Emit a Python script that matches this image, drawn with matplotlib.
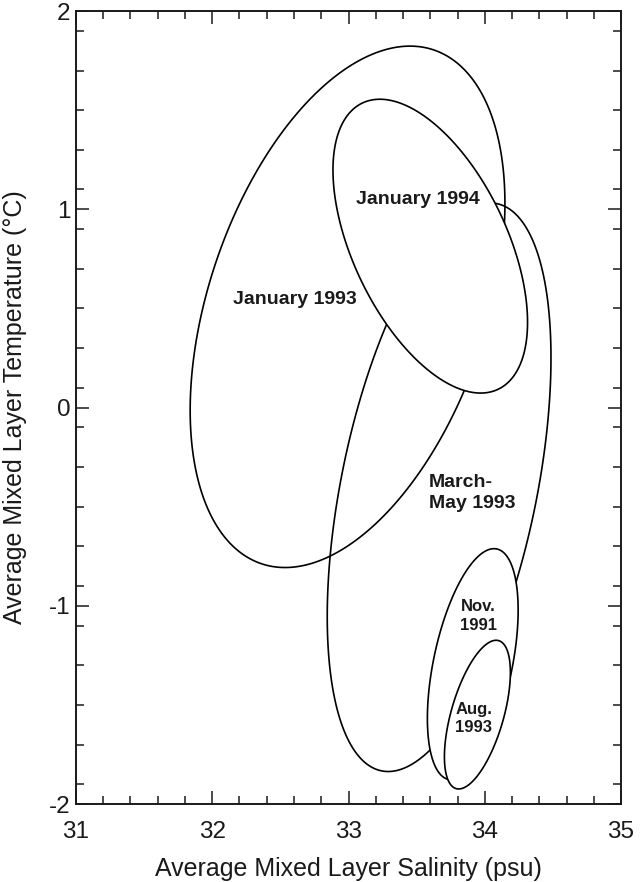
import numpy as np
import matplotlib
matplotlib.use("Agg")
import matplotlib.pyplot as plt
from matplotlib.ticker import MultipleLocator, FixedLocator

plt.rcParams['font.family'] = ['Liberation Sans', 'DejaVu Sans']
plt.rcParams['axes.unicode_minus'] = False

# Ellipse statistics (mean salinity, mean temperature, spreads, correlation)
periods = ["March-May 1993", "January 1993", "January 1994", "Nov. 1991", "Aug. 1993"]
mean_sal = [33.665, 32.993, 33.600, 33.912, 33.946]
mean_temp = [-0.402, 0.508, 0.814, -1.295, -1.549]
sd_sal = [0.821, 1.155, 0.714, 0.333, 0.242]
sd_temp = [1.434, 1.315, 0.741, 0.583, 0.375]
corr = [0.455, 0.397, -0.518, 0.468, 0.567]
filled = [False, False, True, True, True]

# Labels and their positions (data coordinates)
label_text = ["March-\nMay 1993", "January 1993", "January 1994", "Nov.\n1991", "Aug.\n1993"]
label_x = [33.589, 32.61, 33.51, 33.954, 33.918]
label_y = [-0.43, 0.546, 1.047, -1.052, -1.569]
label_ha = ["left", "center", "center", "center", "center"]
label_size = [14, 14, 14, 12, 12]

x_ticks = [31, 32, 33, 34, 35]
y_ticks = [-2, -1, 0, 1, 2]

fig = plt.figure(figsize=(6.44, 8.82), dpi=100)
ax = fig.add_axes([0.118, 0.0884, 0.8463, 0.8991])
ax.set_xlim(31, 35)
ax.set_ylim(-2, 2)

t = np.linspace(0, 2 * np.pi, 600)
for i in range(len(periods)):
    cx, cy, sx, sy, r = mean_sal[i], mean_temp[i], sd_sal[i], sd_temp[i], corr[i]
    xs = cx + sx * np.cos(t)
    ys = cy + sy * (r * np.cos(t) + np.sqrt(1 - r * r) * np.sin(t))
    ax.fill(xs, ys, facecolor="white" if filled[i] else "none",
            edgecolor="black", lw=1.2, zorder=2 + i)

for i in range(len(label_text)):
    ax.text(label_x[i], label_y[i], label_text[i], ha=label_ha[i], va="center",
            fontsize=label_size[i], fontweight="bold", linespacing=1.28,
            color="#1a1a1a", zorder=10)

ax.set_xticks(x_ticks)
ax.set_yticks(y_ticks)
ax.set_xticklabels([str(v) for v in x_ticks])
ax.set_yticklabels([str(v) for v in y_ticks])
ax.xaxis.set_minor_locator(MultipleLocator(0.2))
ax.yaxis.set_minor_locator(FixedLocator(np.round(np.arange(-1.9, 2.0, 0.2), 1)))

ax.tick_params(which="both", direction="in", top=True, right=True, width=1.1, colors="#1a1a1a")
ax.tick_params(which="major", length=9.7)
ax.tick_params(which="minor", length=5.8)
ax.tick_params(axis="x", which="major", labelsize=17.5, pad=12)
ax.tick_params(axis="y", which="major", labelsize=17.5, pad=4)
for sp in ax.spines.values():
    sp.set_linewidth(1.4)
    sp.set_color("#1a1a1a")

ax.set_xlabel("Average Mixed Layer Salinity (psu)", fontsize=18, color="#1a1a1a")
ax.set_ylabel("Average Mixed Layer Temperature (\u00b0C)", fontsize=18, color="#1a1a1a")
ax.xaxis.set_label_coords(0.5, -0.067)
ax.yaxis.set_label_coords(-0.09, 0.5)

fig.savefig("out.png")
